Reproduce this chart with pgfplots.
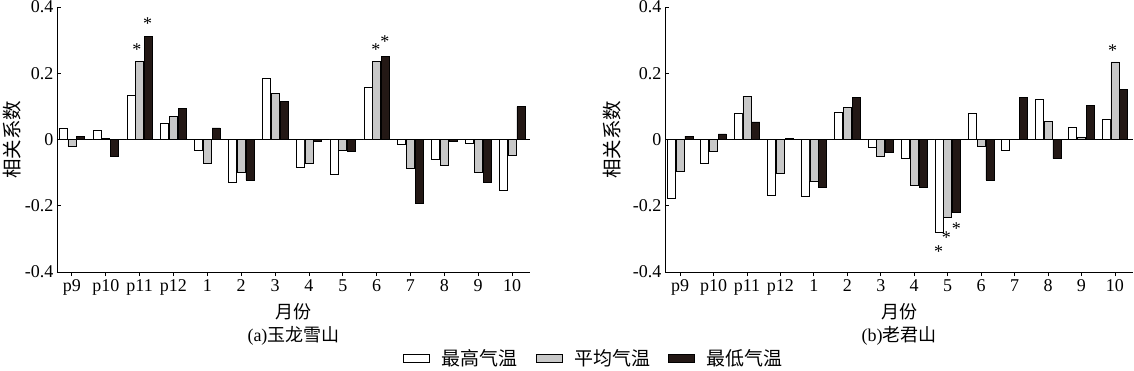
\documentclass[border=0pt]{standalone}
\usepackage{pgfplots}
\pgfplotsset{compat=1.18}
\usepackage{fontspec}
\setmainfont{Liberation Serif}
\newfontfamily\cjk{Noto Sans CJK SC}
\definecolor{barGray}{HTML}{C8C8C8}
\definecolor{barBlack}{HTML}{231815}
\tikzset{sigmark/.style={font=\fontsize{18}{20}\selectfont, inner sep=0pt, anchor=center, yshift=-3pt}}
\pgfplotsset{
  mybars/.style={
    scale only axis, height=265pt,
    ymin=-0.4, ymax=0.4,
    axis lines*=left, axis line style={-, line width=0.8pt},
    ybar=0.8pt, bar width=8pt,
    xtick={0,...,13}, xticklabels={p9,p10,p11,p12,1,2,3,4,5,6,7,8,9,10},
    ytick={-0.4,-0.2,0,0.2,0.4}, yticklabels={-0.4,-0.2,0,0.2,0.4},
    tick style={black, line width=0.8pt}, major tick length=4pt,
    tick label style={font=\fontsize{18}{20}\selectfont},
    extra y ticks={0}, extra y tick labels={},
    extra y tick style={grid=major, major grid style={black, line width=0.8pt}, major tick length=0pt},
    xlabel={\cjk 月份}, ylabel={\cjk 相关系数},
    label style={font=\fontsize{18}{20}\selectfont},
    ylabel style={font=\fontsize{19.5}{21}\selectfont},
    xlabel style={at={(axis description cs:0.5,0)}, anchor=center, yshift=-40pt},
    legend image code/.code={\draw[#1] (0pt,-4pt) rectangle (26pt,4pt);},
  },
  wbar/.style={draw=black, fill=white, line width=0.6pt},
  gbar/.style={draw=black, fill=barGray, line width=0.6pt},
  kbar/.style={draw=black, fill=barBlack, line width=0.6pt},
}
\begin{document}
\begin{tikzpicture}
\begin{axis}[mybars, name=left, at={(0pt,0pt)}, anchor=south west,
  width=473pt, xmin=-0.44, xmax=13.53,
  ylabel style={at={(axis description cs:-0.095,0.5)}, anchor=center},
  legend columns=3,
  legend style={at={(axis description cs:1.135,-0.325)}, anchor=center, draw=none,
    font=\fontsize{19}{21}\cjk\selectfont,
    /tikz/every odd column/.append style={column sep=10pt},
    /tikz/every even column/.append style={column sep=16pt}},
]
\addplot[wbar] coordinates {(0,0.035) (1,0.028) (2,0.134) (3,0.050) (4,-0.033) (5,-0.129) (6,0.184) (7,-0.084) (8,-0.106) (9,0.158) (10,-0.015) (11,-0.061) (12,-0.012) (13,-0.154)};
\addplot[gbar] coordinates {(0,-0.022) (1,0.003) (2,0.235) (3,0.070) (4,-0.073) (5,-0.098) (6,0.139) (7,-0.071) (8,-0.032) (9,0.235) (10,-0.086) (11,-0.077) (12,-0.099) (13,-0.048)};
\addplot[kbar] coordinates {(0,0.010) (1,-0.052) (2,0.311) (3,0.093) (4,0.035) (5,-0.123) (6,0.114) (7,-0.005) (8,-0.035) (9,0.250) (10,-0.194) (11,-0.005) (12,-0.130) (13,0.099)};
\legend{最高气温,平均气温,最低气温}
\node[sigmark] at (axis cs:1.92,0.279) {*};
\node[sigmark] at (axis cs:2.24,0.358) {*};
\node[sigmark] at (axis cs:8.98,0.280) {*};
\node[sigmark] at (axis cs:9.24,0.306) {*};
\end{axis}
\node[font=\fontsize{18}{20}\selectfont] at ([yshift=-64pt]left.south) {(a){\cjk 玉龙雪山}};
\begin{axis}[mybars, name=right, at={(608pt,0pt)}, anchor=south west,
  width=468pt, xmin=-0.45, xmax=13.54,
  ylabel style={at={(axis description cs:-0.112,0.5)}, anchor=center},
]
\addplot[wbar] coordinates {(0,-0.179) (1,-0.071) (2,0.078) (3,-0.167) (4,-0.170) (5,0.081) (6,-0.025) (7,-0.056) (8,-0.281) (9,0.079) (10,-0.032) (11,0.121) (12,0.038) (13,0.061)};
\addplot[gbar] coordinates {(0,-0.097) (1,-0.035) (2,0.131) (3,-0.101) (4,-0.126) (5,0.096) (6,-0.052) (7,-0.138) (8,-0.234) (9,-0.022) (10,0.0) (11,0.054) (12,0.008) (13,0.234)};
\addplot[kbar] coordinates {(0,0.010) (1,0.017) (2,0.053) (3,0.003) (4,-0.143) (5,0.128) (6,-0.040) (7,-0.144) (8,-0.219) (9,-0.123) (10,0.126) (11,-0.058) (12,0.104) (13,0.152)};
\node[sigmark] at (axis cs:7.73,-0.330) {*};
\node[sigmark] at (axis cs:7.96,-0.288) {*};
\node[sigmark] at (axis cs:8.26,-0.260) {*};
\node[sigmark] at (axis cs:12.93,0.278) {*};
\end{axis}
\node[font=\fontsize{18}{20}\selectfont] at ([yshift=-64pt]right.south) {(b){\cjk 老君山}};
\pgfresetboundingbox
\path (-57pt,-98pt) rectangle (1077pt,272pt);
\end{tikzpicture}
\end{document}
